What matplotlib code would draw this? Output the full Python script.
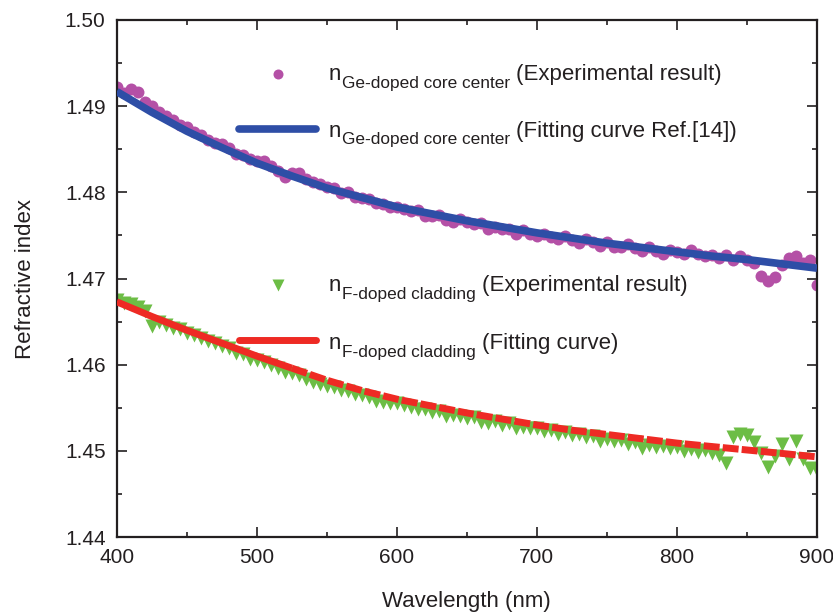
import matplotlib
matplotlib.use("Agg")
import matplotlib.pyplot as plt

plt.rcParams['font.family'] = ['Liberation Sans', 'DejaVu Sans']

# ---- data ----
wl_fit = [400, 425, 450, 475, 500, 525, 550, 575, 600, 625, 650, 675, 700,
          725, 750, 775, 800, 825, 850, 875, 900]
core_fit = [1.4917, 1.4893, 1.4871, 1.4852, 1.4834, 1.4819, 1.4805, 1.4794,
            1.4783, 1.4775, 1.4767, 1.4760, 1.4753, 1.4747, 1.4741, 1.4736,
            1.4731, 1.4726, 1.4722, 1.4717, 1.4712]
clad_fit = [1.4673, 1.4656, 1.4640, 1.4625, 1.4610, 1.4596, 1.4582, 1.4570,
            1.4560, 1.4552, 1.4544, 1.4537, 1.4530, 1.4524, 1.4519, 1.4514,
            1.4509, 1.4505, 1.4501, 1.4497, 1.4493]

wl_exp = list(range(400, 901, 5))
core_exp = [
    1.4922, 1.4915, 1.4920, 1.4916, 1.4905, 1.4900, 1.4893, 1.4888, 1.4884, 1.4878,
    1.4876, 1.4870, 1.4866, 1.4861, 1.4857, 1.4856, 1.4851, 1.4845, 1.4843, 1.4839,
    1.4836, 1.4836, 1.4830, 1.4825, 1.4818, 1.4823, 1.4822, 1.4815, 1.4812, 1.4810,
    1.4806, 1.4805, 1.4799, 1.4800, 1.4795, 1.4793, 1.4792, 1.4788, 1.4786, 1.4783,
    1.4783, 1.4781, 1.4778, 1.4779, 1.4772, 1.4773, 1.4774, 1.4768, 1.4766, 1.4769,
    1.4765, 1.4763, 1.4764, 1.4758, 1.4760, 1.4758, 1.4757, 1.4752, 1.4756, 1.4752,
    1.4749, 1.4752, 1.4748, 1.4746, 1.4749, 1.4745, 1.4741, 1.4746, 1.4742, 1.4738,
    1.4742, 1.4737, 1.4736, 1.4740, 1.4735, 1.4732, 1.4737, 1.4732, 1.4729, 1.4733,
    1.4731, 1.4728, 1.4733, 1.4729, 1.4726, 1.4727, 1.4724, 1.4727, 1.4722, 1.4726,
    1.4721, 1.4718, 1.4703, 1.4697, 1.4702, 1.4716, 1.4724, 1.4726, 1.4718, 1.4722,
    1.4693]
clad_exp = [
    1.4675, 1.4672, 1.4670, 1.4667, 1.4662, 1.4645, 1.4650, 1.4646, 1.4643, 1.4641,
    1.4637, 1.4634, 1.4631, 1.4628, 1.4625, 1.4622, 1.4619, 1.4613, 1.4612, 1.4607,
    1.4605, 1.4603, 1.4600, 1.4596, 1.4592, 1.4590, 1.4588, 1.4583, 1.4580, 1.4578,
    1.4575, 1.4574, 1.4571, 1.4569, 1.4566, 1.4565, 1.4563, 1.4558, 1.4557, 1.4556,
    1.4555, 1.4553, 1.4551, 1.4548, 1.4549, 1.4545, 1.4546, 1.4541, 1.4542, 1.4540,
    1.4538, 1.4539, 1.4534, 1.4532, 1.4535, 1.4530, 1.4532, 1.4527, 1.4528, 1.4526,
    1.4527, 1.4523, 1.4524, 1.4520, 1.4522, 1.4518, 1.4520, 1.4516, 1.4517, 1.4512,
    1.4514, 1.4511, 1.4513, 1.4508, 1.4510, 1.4503, 1.4507, 1.4505, 1.4506, 1.4503,
    1.4505, 1.4500, 1.4502, 1.4499, 1.4501, 1.4498, 1.4495, 1.4486, 1.4516, 1.4520,
    1.4518, 1.4510, 1.4498, 1.4481, 1.4494, 1.4508, 1.4490, 1.4512, 1.4490, 1.4480,
    1.4478]

sub_labels = ['Ge-doped core center', 'Ge-doped core center',
              'F-doped cladding', 'F-doped cladding']
tail_labels = ['(Experimental result)', '(Fitting curve Ref.[14])',
               '(Experimental result)', '(Fitting curve)']

c_mag = '#b450a6'
c_blue = '#2e4ea6'
c_green = '#6cbd45'
c_red = '#ee2a24'
c_text = '#231f20'

fig = plt.figure(figsize=(8.33, 6.15), dpi=100)
ax = fig.add_axes([0.1401, 0.1268, 0.8407, 0.8407])

ax.plot(wl_exp, core_exp, 'o', color=c_mag, ms=8.6, mec='none', zorder=2)
ax.plot(wl_fit, core_fit, '-', color=c_blue, lw=5.5, zorder=3, solid_capstyle='butt')
ax.plot(wl_exp, clad_exp, 'v', color=c_green, ms=10.5, mec='none', zorder=2)
n_solid = 6
ax.plot(wl_fit[:n_solid], clad_fit[:n_solid], '-', color=c_red, lw=5, zorder=3,
        solid_capstyle='butt')
ax.plot(wl_fit[n_solid - 1:], clad_fit[n_solid - 1:], '--', color=c_red, lw=5,
        dashes=(2.3, 0.45), dash_capstyle='butt', zorder=3)

ax.set_xlim(400, 900)
ax.set_ylim(1.44, 1.50)
ax.set_xticks([400, 500, 600, 700, 800, 900])
ax.set_yticks([1.44, 1.45, 1.46, 1.47, 1.48, 1.49, 1.50])
ax.set_yticklabels(['1.44', '1.45', '1.46', '1.47', '1.48', '1.49', '1.50'])
ax.set_xticks([450, 550, 650, 750, 850], minor=True)
ax.set_yticks([1.445, 1.455, 1.465, 1.475, 1.485, 1.495], minor=True)
ax.tick_params(which='both', direction='in', top=True, right=True,
               color=c_text, width=1.2, labelsize=15, labelcolor=c_text)
ax.tick_params(which='major', length=7, pad=8)
ax.tick_params(which='minor', length=3.5)
for s in ax.spines.values():
    s.set_linewidth(1.6)
    s.set_color(c_text)

ax.set_xlabel('Wavelength (nm)', fontsize=16, color=c_text, labelpad=17)
ax.set_ylabel('Refractive index', fontsize=16, color=c_text, labelpad=21)

# ---- legend (drawn in axes coordinates) ----
hx0, hx1, mx, tx = 0.1746, 0.2853, 0.231, 0.3032
row_y = [0.8956, 0.7892, 0.4874, 0.3810]
base_y = [0.8830, 0.7746, 0.4758, 0.3640]
kinds = [('o', c_mag, 7.2), ('line', c_blue, 5.5), ('v', c_green, 9), ('line', c_red, 5)]
for (kind, col, sz), ry, by, sub, tail in zip(kinds, row_y, base_y, sub_labels, tail_labels):
    if kind == 'line':
        ax.plot([hx0, hx1], [ry, ry], '-', color=col, lw=sz, solid_capstyle='round',
                transform=ax.transAxes, clip_on=False, zorder=4)
    else:
        ax.plot([mx], [ry], kind, color=col, ms=sz, mec='none',
                transform=ax.transAxes, clip_on=False, zorder=4)
    t1 = ax.text(tx, by, 'n', transform=ax.transAxes, fontsize=16,
                 va='baseline', ha='left', color=c_text)
    t2 = ax.annotate(sub, xy=(1, 0), xycoords=t1, xytext=(0.4, -4.2),
                     textcoords='offset points', fontsize=12.4, va='bottom',
                     ha='left', color=c_text)
    ax.annotate(tail, xy=(1, 0), xycoords=(t2, t1), xytext=(4.3, 0),
                textcoords='offset points', fontsize=16, va='bottom',
                ha='left', color=c_text)

fig.savefig('out.png', dpi=100)
